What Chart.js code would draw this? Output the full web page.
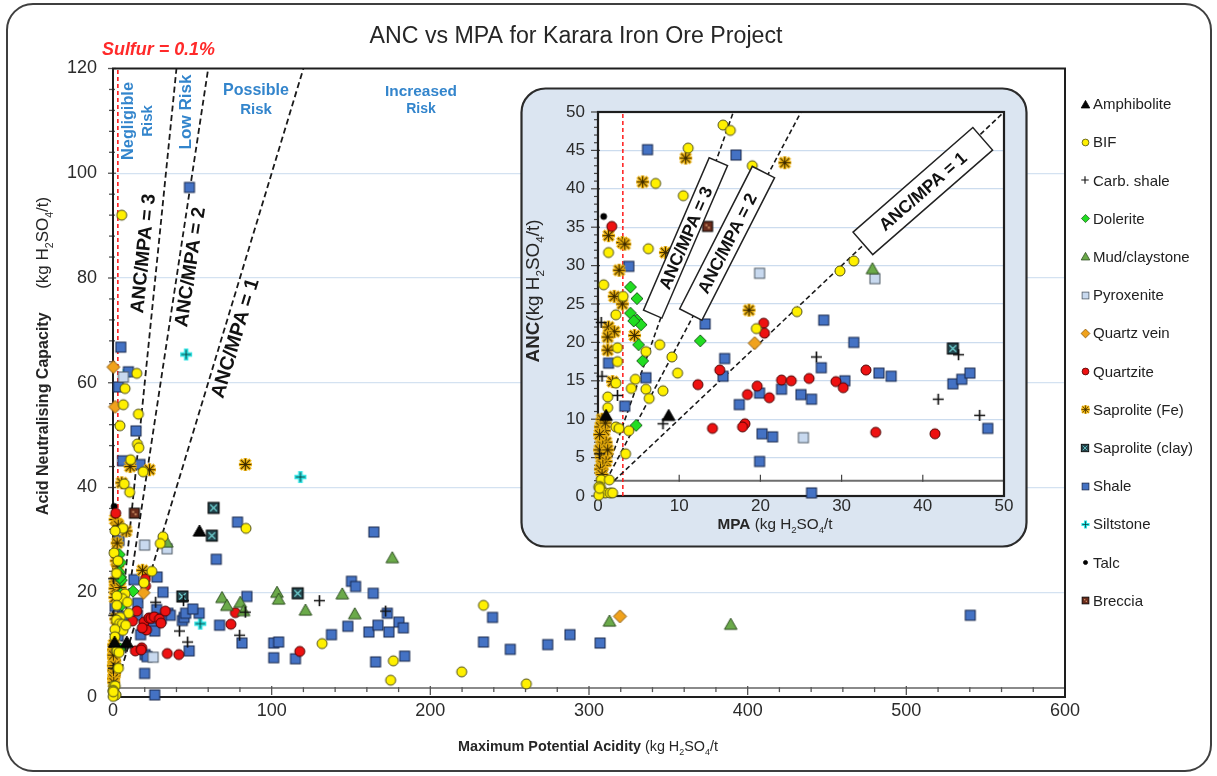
<!DOCTYPE html>
<html><head><meta charset="utf-8"><title>ANC vs MPA for Karara Iron Ore Project</title>
<script src="https://cdn.jsdelivr.net/npm/chart.js@4.4.1/dist/chart.umd.min.js"></script>
<style>
html,body{margin:0;padding:0;background:#fff;overflow:hidden}
#mainBox{position:absolute;left:0;top:0;width:1217px;height:776px}
#insetBox{position:absolute;left:520px;top:87px;width:508px;height:461px}
</style></head>
<body>
<div id="mainBox"><canvas id="main" width="1217" height="776"></canvas></div>
<div id="insetBox"><canvas id="inset" width="508" height="461"></canvas></div>
<script>
// ================= DATA (MPA, ANC) in kg H2SO4/t =================
const categories = ['Amphibolite','BIF','Carb. shale','Dolerite','Mud/claystone','Pyroxenite','Quartz vein','Quartzite','Saprolite (Fe)','Saprolite (clay)','Shale','Siltstone','Talc','Breccia'];

const amphibolite = [[8.7,10.5],[1.0,10.5],[54.5,31.7]];
const bif = [[5.5,92.0],[15.0,61.8],[7.6,58.9],[6.5,55.8],[16.0,54.0],[4.4,51.8],[15.4,48.3],[16.3,47.6],[11.1,45.3],[7.1,40.7],[10.5,39.1],[19.0,43.0],[6.2,32.2],[1.3,31.7],[0.7,27.5],[3.1,26.0],[2.2,23.6],[24.5,24.0],[19.5,21.8],[7.6,19.7],[5.9,18.8],[2.4,19.3],[2.4,17.5],[9.1,18.1],[9.8,16.0],[4.6,15.2],[2.2,14.7],[4.1,14.0],[5.9,13.9],[6.3,12.7],[8.0,13.7],[1.2,12.9],[1.2,11.5],[2.2,9.0],[2.6,8.8],[3.8,8.5],[3.4,5.5],[0.4,2.1],[1.4,2.1],[0.3,1.2],[0.9,0.4],[1.5,0.4],[0.1,1.2],[1.8,0.4],[31.5,30.6],[29.8,29.3],[83.8,32.2],[131.8,10.2],[176.7,6.9],[175.0,3.2],[233.5,17.5],[219.8,4.8],[260.5,2.5],[0.1,0.1],[0.2,1.0]];
const carbShale = [[0.4,22.6],[0.5,15.6],[2.4,13.1],[8.0,9.4],[0.2,5.5],[26.9,18.1],[44.4,18.4],[41.9,12.6],[47.0,10.5],[79.8,11.8],[83.4,16.2],[130.1,18.4],[171.8,16.4]];
const dolerite = [[4.0,27.2],[4.8,25.7],[4.0,23.8],[4.8,22.9],[5.3,22.3],[4.4,22.8],[5.0,19.7],[5.5,17.6],[12.6,20.2],[4.7,9.2]];
const mudClaystone = [[33.8,29.6],[176.0,26.6],[68.7,19.0],[71.8,17.5],[80.2,18.1],[103.4,20.0],[104.4,18.7],[121.3,16.6],[144.5,19.7],[152.4,15.9],[82.3,16.5],[312.9,14.5],[389.3,13.9]];
const pyroxenite = [[19.9,29.0],[25.3,7.6],[34.1,28.3],[6.5,61.1]];
const quartzVein = [[19.3,19.9],[0.2,63.0],[1.3,55.4],[319.5,15.4]];
const quartzite = [[1.7,35.1],[20.4,22.5],[20.5,21.2],[15.0,16.4],[12.3,14.5],[19.6,14.3],[21.1,12.8],[18.4,13.2],[14.1,8.8],[18.1,9.4],[17.8,9.0],[22.6,15.1],[23.8,15.0],[26.0,15.3],[29.3,14.9],[30.2,14.1],[33.0,16.4],[34.2,8.3],[41.5,8.1],[77.1,16.1],[74.3,13.9],[117.7,8.7]];
const saproliteFe = [[5.5,40.9],[10.8,44.0],[23.0,43.4],[1.3,33.9],[3.0,33.0],[3.3,32.8],[8.3,31.7],[2.6,29.4],[2.0,26.0],[3.0,25.0],[18.6,24.2],[1.3,22.0],[2.0,21.4],[1.2,20.7],[4.5,20.9],[1.2,19.0],[1.8,14.9],[83.4,44.4],[0.5,10.0],[0.3,9.0],[0.8,8.5],[0.4,7.5],[1.0,7.0],[0.6,6.5],[0.2,6.0],[0.8,5.5],[0.4,5.0],[1.0,4.5],[0.6,4.0],[0.3,3.5],[1.2,6.0],[0.9,9.5],[0.2,8.0],[0.5,2.8]];
const saproliteClay = [[43.7,19.2],[63.4,36.1],[62.3,30.8],[116.4,19.8]];
const shale = [[6.1,45.1],[17.0,44.4],[3.8,29.9],[13.2,22.4],[15.6,17.9],[15.4,15.6],[5.9,15.4],[1.3,17.3],[3.3,11.7],[17.4,11.9],[19.9,13.4],[20.2,8.1],[21.5,7.7],[19.9,4.5],[22.6,13.9],[27.8,22.9],[31.5,20.0],[27.5,16.7],[34.6,16.0],[36.1,15.6],[30.4,15.0],[25.0,13.2],[26.3,12.6],[43.7,14.6],[44.8,15.2],[45.8,16.0],[48.0,8.8],[26.3,0.4],[4.9,66.8],[9.7,62.1],[3.4,59.2],[14.5,50.8],[48.2,97.3],[78.5,33.4],[65.1,26.3],[164.4,31.5],[84.4,19.2],[150.3,22.1],[152.9,21.1],[164.0,19.8],[172.9,16.0],[180.2,14.3],[148.0,13.5],[161.3,12.4],[167.0,13.7],[173.9,12.4],[137.7,11.9],[67.2,13.7],[54.3,16.0],[50.3,16.8],[81.3,10.3],[101.3,10.3],[104.4,10.5],[101.3,7.5],[115.0,7.3],[165.5,6.7],[183.0,13.2],[183.8,7.8],[239.2,15.2],[233.5,10.5],[250.4,9.1],[274.0,10.0],[288.0,11.9],[307.0,10.3],[540.3,15.6]];
const siltstone = [[46.1,65.4],[118.1,42.0],[55.0,14.0],[7.5,61.5]];
const talc = [[0.7,36.4]];
const breccia = [[13.5,35.1]];

const seriesData = [amphibolite,bif,carbShale,dolerite,mudClaystone,pyroxenite,quartzVein,quartzite,saproliteFe,saproliteClay,shale,siltstone,talc,breccia];

// axes / reference values
const xTicksMain = [0,100,200,300,400,500,600];
const yTicksMain = [0,20,40,60,80,100,120];
const xTicksInset = [0,10,20,30,40,50];
const yTicksInset = [0,5,10,15,20,25,30,35,40,45,50];
const ratioLines = [3,2,1];           // ANC/MPA ratios
const sulfurMPA = 3.06;               // S = 0.1 %
const mainCross = 1.7;                // ANC where horizontal axis crosses (main)
const insetCross = 2;                 // ANC where horizontal axis crosses (inset)

// ================= STYLES =================
const FONT = '"Liberation Sans", Arial, Helvetica, sans-serif';
Chart.defaults.font.family = FONT;
const styles = [
  {kind:'tri', fill:'#050505', stroke:'#000000', h:6},
  {kind:'circ', fill:'#FFF000', stroke:'#4d4d1a', h:5},
  {kind:'plus', fill:'#000000', stroke:'#111111', h:5.5},
  {kind:'dia', fill:'#22DD22', stroke:'#1f5f1f', h:6},
  {kind:'tri', fill:'#6BAA4A', stroke:'#2f4f22', h:6},
  {kind:'sq', fill:'#C8D9EF', stroke:'#4f5a66', h:5},
  {kind:'dia', fill:'#F0A21C', stroke:'#8a5a10', h:6.5},
  {kind:'circ', fill:'#EE1111', stroke:'#4a0000', h:5},
  {kind:'sapFe', fill:'#EBB00E', stroke:'#3d2b00', h:6.5},
  {kind:'sapClay', fill:'#23434B', stroke:'#000000', h:5.5},
  {kind:'sq', fill:'#4472C4', stroke:'#17264a', h:5},
  {kind:'silt', fill:'#33E5E5', stroke:'#074848', h:6},
  {kind:'circ', fill:'#000000', stroke:'#000000', h:3},
  {kind:'breccia', fill:'#6A2C1C', stroke:'#000000', h:5}
];

function makeMarker(st, scale){
  const h = Math.max(2, st.h*scale);
  const n = Math.ceil(2*h + 4);
  const c = document.createElement('canvas'); c.width = n; c.height = n;
  const g = c.getContext('2d'); const m = n/2;
  g.fillStyle = st.fill; g.strokeStyle = st.stroke; g.lineWidth = scale < 1 ? 0.8 : 1;
  const plus = (a, lw, col) => { g.strokeStyle = col; g.lineWidth = lw; g.beginPath(); g.moveTo(m-a,m); g.lineTo(m+a,m); g.moveTo(m,m-a); g.lineTo(m,m+a); g.stroke(); };
  const cross = (a, lw, col) => { g.strokeStyle = col; g.lineWidth = lw; g.beginPath(); g.moveTo(m-a,m-a); g.lineTo(m+a,m+a); g.moveTo(m-a,m+a); g.lineTo(m+a,m-a); g.stroke(); };
  switch(st.kind){
    case 'circ': g.beginPath(); g.arc(m,m,h,0,Math.PI*2); g.fill(); g.stroke(); break;
    case 'sq': g.fillRect(m-h,m-h,2*h,2*h); g.strokeRect(m-h,m-h,2*h,2*h); break;
    case 'tri': g.beginPath(); g.moveTo(m,m-h); g.lineTo(m+h*1.05,m+h*0.85); g.lineTo(m-h*1.05,m+h*0.85); g.closePath(); g.fill(); g.stroke(); break;
    case 'dia': g.beginPath(); g.moveTo(m,m-h); g.lineTo(m+h,m); g.lineTo(m,m+h); g.lineTo(m-h,m); g.closePath(); g.fill(); g.stroke(); break;
    case 'plus': plus(h, Math.max(1.1,h*0.3), st.stroke); break;
    case 'silt': plus(h, h*0.75, st.fill); plus(h*0.8, Math.max(0.8,h*0.18), st.stroke); break;
    case 'sapFe':
      g.fillStyle = st.fill; g.beginPath(); g.arc(m,m,h*0.72,0,Math.PI*2); g.fill();
      plus(h, h*0.55, st.fill); cross(h*0.78, h*0.55, st.fill);
      plus(h*0.9, Math.max(0.7,h*0.16), st.stroke); cross(h*0.66, Math.max(0.7,h*0.16), st.stroke); break;
    case 'sapClay':
      g.fillRect(m-h,m-h,2*h,2*h); g.strokeRect(m-h,m-h,2*h,2*h);
      cross(h*0.6, Math.max(0.7,h*0.22), '#70D2D2'); break;
    case 'breccia':
      g.fillRect(m-h,m-h,2*h,2*h); g.strokeRect(m-h,m-h,2*h,2*h);
      g.fillStyle = '#C98A62'; g.fillRect(m-h*0.45,m-h*0.45,h*0.4,h*0.4); g.fillRect(m+h*0.05,m+h*0.05,h*0.4,h*0.4); break;
  }
  return c;
}
const mainMarkers = styles.map(s => makeMarker(s, 1));
const legendMarkers = styles.map(s => makeMarker(s, 0.68));

// ================= TEXT HELPERS =================
function segFont(s, k){ const sz = (s.sub ? s.s*0.62 : s.s)*k; return (s.i?'italic ':'') + (s.b?'bold ':'') + sz.toFixed(2) + 'px ' + FONT; }
function richDraw(ctx, segs, x, y, align, target){
  const meas = k => segs.reduce((w,s) => { ctx.font = segFont(s,k); return w + ctx.measureText(s.t).width; }, 0);
  const k = target ? target/meas(1) : 1;
  const w = meas(k);
  let cx = align === 'center' ? x - w/2 : (align === 'right' ? x - w : x);
  ctx.textAlign = 'left'; ctx.textBaseline = 'alphabetic';
  for (const s of segs){
    ctx.font = segFont(s,k); ctx.fillStyle = s.c || '#262626';
    ctx.fillText(s.t, cx, y + (s.sub ? s.s*k*0.28 : 0));
    cx += ctx.measureText(s.t).width;
  }
  return k;
}
function rotRich(ctx, segs, cx, cy, ang, target, size){
  ctx.save(); ctx.translate(cx, cy); ctx.rotate(ang);
  richDraw(ctx, segs, 0, size*0.36, 'center', target);
  ctx.restore();
}
function line(ctx,x1,y1,x2,y2){ ctx.beginPath(); ctx.moveTo(x1,y1); ctx.lineTo(x2,y2); ctx.stroke(); }
function rrect(ctx,x,y,w,h,r){ ctx.beginPath(); ctx.moveTo(x+r,y); ctx.lineTo(x+w-r,y); ctx.arcTo(x+w,y,x+w,y+r,r); ctx.lineTo(x+w,y+h-r); ctx.arcTo(x+w,y+h,x+w-r,y+h,r); ctx.lineTo(x+r,y+h); ctx.arcTo(x,y+h,x,y+h-r,r); ctx.lineTo(x,y+r); ctx.arcTo(x,y,x+r,y,r); ctx.closePath(); }
const H2SO4 = s => [{t:'H',s:s},{t:'2',s:s,sub:1},{t:'SO',s:s},{t:'4',s:s,sub:1}];
const pts = arr => arr.map(p => ({x:p[0], y:p[1]}));

// ================= MAIN CHART =================
const MAIN_XMAX = xTicksMain[xTicksMain.length-1], MAIN_YMAX = yTicksMain[yTicksMain.length-1];
const mainSets = categories.map((lab,i) => ({label:lab, data:pts(seriesData[i]), pointStyle:mainMarkers[i], pointRadius:5, pointHoverRadius:5, showLine:false, clip:false, order:i}));
ratioLines.forEach(k => mainSets.push({label:'ANC/MPA='+k, data:[{x:mainCross/k,y:mainCross},{x:MAIN_YMAX/k,y:MAIN_YMAX}], showLine:true, pointRadius:0, borderColor:'#1a1a1a', borderWidth:1.8, borderDash:[6,3.5], order:50, clip:false}));
mainSets.push({label:'Sulfur', data:[{x:sulfurMPA,y:0},{x:sulfurMPA,y:MAIN_YMAX}], showLine:true, pointRadius:0, borderColor:'#FF1A1A', borderWidth:1.6, borderDash:[4,3], order:51, clip:false});

const mainLabelPos = [{k:3, x:18.9, y:84.7, len:120},{k:2, x:48.5, y:82.1, len:121},{k:1, x:76.9, y:68.5, len:124}];

const mainPlugin = {
  id:'mainDeco',
  beforeDraw(chart){ const c = chart.ctx; c.save(); c.fillStyle = '#ffffff'; c.fillRect(0,0,chart.width,chart.height); c.restore(); },
  beforeDatasetsDraw(chart){
    const {ctx, chartArea:a, scales:{x,y}} = chart;
    ctx.save();
    const yc = y.getPixelForValue(mainCross);
    ctx.strokeStyle = '#8a8a8a'; ctx.lineWidth = 2; line(ctx, a.left, yc, a.right, yc);
    ctx.strokeStyle = '#555'; ctx.lineWidth = 1.3;
    for (let v = 0; v <= MAIN_XMAX; v += 20){ const px = x.getPixelForValue(v); const mj = v % 100 === 0; line(ctx, px, yc-(mj?2:1), px, yc+(mj?7:4)); }
    for (let v = 0; v <= MAIN_YMAX; v += 4){ const py = y.getPixelForValue(v); const mj = v % 20 === 0; line(ctx, a.left-(mj?5:4), py, a.left+(mj?3:2), py); }
    ctx.strokeStyle = '#1e1e1e'; ctx.lineWidth = 2; ctx.strokeRect(a.left, a.top, a.right-a.left, a.bottom-a.top);
    ctx.restore();
  },
  afterDraw(chart){
    const {ctx, scales:{x,y}} = chart;
    ctx.save();
    // outer rounded border
    ctx.strokeStyle = '#3f3f3f'; ctx.lineWidth = 2; rrect(ctx, 7, 4, 1204, 767, 26); ctx.stroke();
    // title
    richDraw(ctx, [{t:'ANC vs MPA for Karara Iron Ore Project', s:21}], 576, 43, 'center', 413);
    // sulfur label
    richDraw(ctx, [{t:'Sulfur = 0.1%', s:16, b:1, i:1, c:'#FF2A2A'}], 102, 55, 'left', 113);
    // risk zone labels
    const blue = '#3385CC';
    rotRich(ctx, [{t:'Negligible', s:15, b:1, c:blue}], 128, 121, -Math.PI/2, 78, 15);
    rotRich(ctx, [{t:'Risk', s:15, b:1, c:blue}], 147, 121, -Math.PI/2, null, 15);
    rotRich(ctx, [{t:'Low Risk', s:15, b:1, c:blue}], 186, 112, -Math.PI/2, 75, 15);
    richDraw(ctx, [{t:'Possible', s:15, b:1, c:blue}], 256, 95, 'center', 66);
    richDraw(ctx, [{t:'Risk', s:15, b:1, c:blue}], 256, 114, 'center', null);
    richDraw(ctx, [{t:'Increased', s:14, b:1, c:blue}], 421, 96, 'center', 72);
    richDraw(ctx, [{t:'Risk', s:14, b:1, c:blue}], 421, 113, 'center', null);
    // ratio labels along lines
    mainLabelPos.forEach(L => {
      const x0 = x.getPixelForValue(0), y0 = y.getPixelForValue(0);
      const x1 = x.getPixelForValue(100/L.k), y1 = y.getPixelForValue(100);
      const ang = Math.atan2(y1-y0, x1-x0);
      rotRich(ctx, [{t:'ANC/MPA = '+L.k, s:17, b:1, c:'#111'}], x.getPixelForValue(L.x), y.getPixelForValue(L.y), ang, L.len, 17);
    });
    // axis titles
    rotRich(ctx, [{t:'Acid Neutralising Capacity', s:16, b:1},{t:'     (kg ', s:17}].concat(H2SO4(17), [{t:'/t)', s:17}]), 42, 356, -Math.PI/2, null, 16);
    richDraw(ctx, [{t:'Maximum Potential Acidity', s:15, b:1},{t:' (kg ', s:15}].concat(H2SO4(15), [{t:'/t', s:15}]), 458, 751, 'left', 260);
    // legend
    categories.forEach((lab, i) => {
      const yy = 104 + i*38.2;
      const mk = legendMarkers[i];
      ctx.drawImage(mk, Math.round(1085 - mk.width/2), Math.round(yy - mk.height/2));
      ctx.font = '15px ' + FONT; ctx.fillStyle = '#222'; ctx.textAlign = 'left'; ctx.textBaseline = 'middle';
      ctx.fillText(lab, 1093, yy + 1);
    });
    ctx.restore();
  }
};

new Chart(document.getElementById('main'), {
  type:'scatter',
  data:{datasets:mainSets},
  options:{
    responsive:false, animation:false, events:[],
    layout:{padding:{left:0, top:68.5, right:152, bottom:0}},
    plugins:{legend:{display:false}, tooltip:{enabled:false}},
    scales:{
      x:{type:'linear', min:0, max:MAIN_XMAX,
         afterBuildTicks:s => { s.ticks = xTicksMain.map(v => ({value:v})); },
         afterFit:s => { s.height = 79; },
         grid:{display:false, drawTicks:false}, border:{display:false},
         ticks:{font:{size:18}, color:'#2b2b2b', padding:3, maxRotation:0, autoSkip:false}},
      y:{type:'linear', min:0, max:MAIN_YMAX,
         afterBuildTicks:s => { s.ticks = yTicksMain.map(v => ({value:v})); },
         afterFit:s => { s.width = 113; },
         grid:{drawTicks:false, lineWidth:1.3, color:c => (c.tick && c.tick.value > 0 && c.tick.value < MAIN_YMAX) ? '#D4E2F1' : 'rgba(0,0,0,0)'},
         border:{display:false},
         ticks:{font:{size:18}, color:'#2b2b2b', padding:16, autoSkip:false}}
    }
  },
  plugins:[mainPlugin]
});

// ================= INSET CHART =================
const INSET_MAX = xTicksInset[xTicksInset.length-1];
const inRange = p => p[0] <= INSET_MAX && p[1] <= INSET_MAX;
const insetSets = categories.map((lab,i) => ({label:lab, data:pts(seriesData[i].filter(inRange)), pointStyle:mainMarkers[i], pointRadius:5, pointHoverRadius:5, showLine:false, clip:false, order:i}));
ratioLines.forEach(k => insetSets.push({label:'ANC/MPA='+k, data:[{x:insetCross/k,y:insetCross},{x:INSET_MAX/k,y:INSET_MAX}], showLine:true, pointRadius:0, borderColor:'#1a1a1a', borderWidth:1.6, borderDash:[5,3], order:50, clip:false}));
insetSets.push({label:'Sulfur', data:[{x:sulfurMPA,y:0},{x:sulfurMPA,y:INSET_MAX}], showLine:true, pointRadius:0, borderColor:'#FF1A1A', borderWidth:1.5, borderDash:[4,3], order:51, clip:false});

const insetBoxes = [{k:3, x:10.78, y:33.6, w:166, h:20, ang:66.7},{k:2, x:15.9, y:32.9, w:160, h:25, ang:63},{k:1, x:40.0, y:39.7, w:159, h:30, ang:41.1}];

const insetPlugin = {
  id:'insetDeco',
  beforeDraw(chart){
    const {ctx, chartArea:a} = chart;
    ctx.save();
    ctx.clearRect(0,0,chart.width,chart.height);
    rrect(ctx, 1.5, 1.5, chart.width-3, chart.height-3, 24);
    ctx.fillStyle = '#DBE5F1'; ctx.fill();
    ctx.strokeStyle = '#2b2b2b'; ctx.lineWidth = 2.2; ctx.stroke();
    ctx.fillStyle = '#ffffff'; ctx.fillRect(a.left, a.top, a.right-a.left, a.bottom-a.top);
    ctx.restore();
  },
  beforeDatasetsDraw(chart){
    const {ctx, chartArea:a, scales:{x,y}} = chart;
    ctx.save();
    const yc = y.getPixelForValue(insetCross);
    ctx.strokeStyle = '#6e6e6e'; ctx.lineWidth = 2; line(ctx, a.left, yc, a.right, yc);
    ctx.strokeStyle = '#444'; ctx.lineWidth = 1.2;
    for (let v = 0; v <= INSET_MAX; v += 10){ const px = x.getPixelForValue(v); line(ctx, px, yc-6, px, yc+1); }
    for (let v = 0; v <= INSET_MAX; v += 1){ const py = y.getPixelForValue(v); const mj = v % 5 === 0; line(ctx, a.left-(mj?7:4), py, a.left+(mj?2:1), py); }
    ctx.strokeStyle = '#1e1e1e'; ctx.lineWidth = 2.2; ctx.strokeRect(a.left, a.top, a.right-a.left, a.bottom-a.top);
    ctx.restore();
  },
  afterDraw(chart){
    const {ctx, scales:{x,y}} = chart;
    ctx.save();
    insetBoxes.forEach(B => {
      ctx.save();
      ctx.translate(x.getPixelForValue(B.x), y.getPixelForValue(B.y));
      ctx.rotate(-B.ang*Math.PI/180);
      ctx.fillStyle = '#ffffff'; ctx.fillRect(-B.w/2, -B.h/2, B.w, B.h);
      ctx.strokeStyle = '#222'; ctx.lineWidth = 1.5; ctx.strokeRect(-B.w/2, -B.h/2, B.w, B.h);
      richDraw(ctx, [{t:'ANC/MPA = '+B.k, s:16, b:1, c:'#111'}], 0, 6, 'center', 110);
      ctx.restore();
    });
    rotRich(ctx, [{t:'ANC', s:17, b:1},{t:'(kg ', s:17}].concat(H2SO4(17), [{t:'/t)', s:17}]), 13, 204, -Math.PI/2, 143, 17);
    richDraw(ctx, [{t:'MPA', s:15, b:1},{t:' (kg ', s:15}].concat(H2SO4(15), [{t:'/t', s:15}]), 255, 442, 'center', 115);
    ctx.restore();
  }
};

new Chart(document.getElementById('inset'), {
  type:'scatter',
  data:{datasets:insetSets},
  options:{
    responsive:false, animation:false, events:[],
    layout:{padding:{left:0, top:25, right:24, bottom:0}},
    plugins:{legend:{display:false}, tooltip:{enabled:false}},
    scales:{
      x:{type:'linear', min:0, max:INSET_MAX,
         afterBuildTicks:s => { s.ticks = xTicksInset.map(v => ({value:v})); },
         afterFit:s => { s.height = 52; },
         grid:{display:false, drawTicks:false}, border:{display:false},
         ticks:{font:{size:17}, color:'#2b2b2b', padding:0, maxRotation:0, autoSkip:false}},
      y:{type:'linear', min:0, max:INSET_MAX,
         afterBuildTicks:s => { s.ticks = yTicksInset.map(v => ({value:v})); },
         afterFit:s => { s.width = 78; },
         grid:{drawTicks:false, lineWidth:1.3, color:c => (c.tick && c.tick.value > 0 && c.tick.value < INSET_MAX) ? '#CCDCEE' : 'rgba(0,0,0,0)'},
         border:{display:false},
         ticks:{font:{size:17}, color:'#2b2b2b', padding:13, autoSkip:false}}
    }
  },
  plugins:[insetPlugin]
});
</script>
</body></html>
